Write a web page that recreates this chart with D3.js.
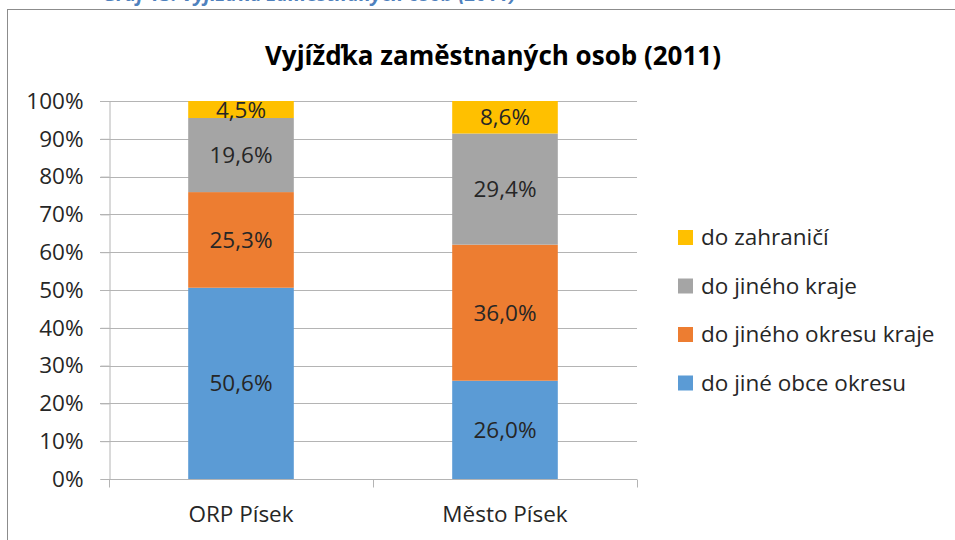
<!DOCTYPE html>
<html>
<head>
<meta charset="utf-8">
<script src="https://cdn.jsdelivr.net/npm/d3@7"></script>
<style>
  html, body { margin: 0; padding: 0; background: #fff; }
  svg { display: block; }
  text { font-family: "Open Sans", Lato, sans-serif; }
</style>
</head>
<body>
<svg id="chart" width="955" height="540"></svg>
<script>
// Commuting of employed persons, 2011 (shares of commuters)
const categories = ["ORP Písek", "Město Písek"];
const seriesNames = ["do jiné obce okresu", "do jiného okresu kraje", "do jiného kraje", "do zahraničí"];
const seriesColors = ["#5B9BD5", "#ED7D31", "#A5A5A5", "#FFC000"];
const jineObceOkresu = [50.6, 26.0];
const jinehoOkresuKraje = [25.3, 36.0];
const jinehoKraje = [19.6, 29.4];
const zahranici = [4.5, 8.6];
const yTicks = [0, 10, 20, 30, 40, 50, 60, 70, 80, 90, 100];
const chartTitle = "Vyjížďka zaměstnaných osob (2011)";
const caption = "Graf 13: Vyjížďka zaměstnaných osob (2011)";

const seriesValues = [jineObceOkresu, jinehoOkresuKraje, jinehoKraje, zahranici];
const rows = categories.map((c, i) => {
  const r = { category: c };
  seriesNames.forEach((s, k) => { r[s] = seriesValues[k][i]; });
  return r;
});
const stacked = d3.stack().keys(seriesNames)(rows);

const svg = d3.select("#chart");
const fmt = v => d3.format(".1f")(v).replace(".", ",") + "%";
const fontSize = 22.5;

// document caption above the chart frame (runs off the top of the page)
svg.append("text")
  .attr("x", 516).attr("y", 1)
  .attr("text-anchor", "end")
  .attr("fill", "#4F81BD")
  .attr("font-weight", "bold")
  .attr("font-style", "italic")
  .attr("font-size", 20)
  .text(caption);

// chart frame
svg.append("rect")
  .attr("x", 7.5).attr("y", 9.5)
  .attr("width", 1000).attr("height", 600)
  .attr("fill", "#fff")
  .attr("stroke", "#8c8c8c").attr("stroke-width", 1);

// title
svg.append("text")
  .attr("x", 493).attr("y", 65)
  .attr("text-anchor", "middle")
  .attr("font-weight", "bold")
  .attr("font-size", 26)
  .attr("fill", "#000")
  .text(chartTitle);

const x = d3.scaleBand().domain(categories).range([109, 637])
  .paddingInner(0.6).paddingOuter(0.3);
const y = d3.scaleLinear().domain([0, 100]).range([479, 101]);

const gridColor = "#b4b4b4";
const labelColor = "#262626";

// horizontal gridlines
svg.append("g")
  .selectAll("line")
  .data(yTicks.filter(t => t > 0))
  .join("line")
  .attr("x1", 100).attr("x2", 637)
  .attr("y1", d => Math.round(y(d)) + 0.5)
  .attr("y2", d => Math.round(y(d)) + 0.5)
  .attr("stroke", gridColor);

// y axis
const yAxis = svg.append("g")
  .attr("transform", "translate(109.5,0)")
  .call(d3.axisLeft(y).tickValues(yTicks).tickSize(9).tickPadding(17)
    .tickFormat(d => d + "%"));
yAxis.select(".domain").attr("stroke", gridColor);
yAxis.selectAll(".tick line").attr("stroke", gridColor);
yAxis.selectAll(".tick text")
  .attr("font-family", "'Open Sans', sans-serif")
  .attr("font-size", fontSize)
  .attr("fill", labelColor);

// stacked bars
const layer = svg.append("g")
  .selectAll("g")
  .data(stacked)
  .join("g")
  .attr("fill", (d, i) => seriesColors[i]);
layer.selectAll("rect")
  .data(d => d)
  .join("rect")
  .attr("x", d => x(d.data.category))
  .attr("width", x.bandwidth())
  .attr("y", d => y(d[1]))
  .attr("height", d => y(d[0]) - y(d[1]));

// data labels
layer.selectAll("text")
  .data(d => d.map(v => ({ v, val: v[1] - v[0] })))
  .join("text")
  .attr("x", d => x(d.v.data.category) + x.bandwidth() / 2)
  .attr("y", d => (y(d.v[0]) + y(d.v[1])) / 2)
  .attr("dy", "0.36em")
  .attr("text-anchor", "middle")
  .attr("font-size", fontSize)
  .attr("fill", labelColor)
  .text(d => fmt(d.val));

// x axis
const xAxis = svg.append("g").attr("transform", "translate(0,479.5)");
xAxis.append("line").attr("x1", 109).attr("x2", 637).attr("stroke", gridColor);
xAxis.selectAll("line.t")
  .data(x.domain().map(c => x(c) - x.step() * x.paddingInner() / 2).concat([x.range()[1]]))
  .join("line")
  .attr("class", "t")
  .attr("x1", d => Math.round(d) + 0.5).attr("x2", d => Math.round(d) + 0.5)
  .attr("y1", 0).attr("y2", 8)
  .attr("stroke", gridColor);
xAxis.selectAll("text")
  .data(categories)
  .join("text")
  .attr("x", d => x(d) + x.bandwidth() / 2)
  .attr("y", 42)
  .attr("text-anchor", "middle")
  .attr("font-size", fontSize)
  .attr("fill", labelColor)
  .text(d => d);

// legend (top to bottom: reverse stacking order)
const legendOrder = d3.range(seriesNames.length).reverse();
const legend = svg.append("g")
  .selectAll("g")
  .data(legendOrder)
  .join("g")
  .attr("transform", (k, i) => `translate(678,${237 + i * 48.5})`);
legend.append("rect")
  .attr("x", 0).attr("y", -7)
  .attr("width", 15).attr("height", 15)
  .attr("fill", k => seriesColors[k]);
legend.append("text")
  .attr("x", 23).attr("y", 0)
  .attr("dy", "0.36em")
  .attr("font-size", fontSize)
  .attr("fill", labelColor)
  .text(k => seriesNames[k]);
</script>
</body>
</html>
